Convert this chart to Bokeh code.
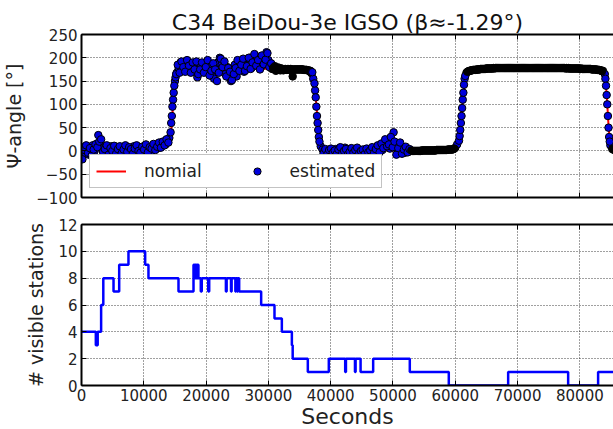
from bokeh.plotting import figure
from bokeh.models import (LinearAxis, Range1d, ColumnDataSource, Legend, LegendItem,
                          CustomJSTickFormatter, FixedTicker, CustomLabelingPolicy)
from bokeh.layouts import column
from bokeh.embed import file_html
from bokeh.resources import INLINE

FONT = "DejaVu Sans"

# ---------------- data ----------------
title_text = "C34 BeiDou-3e IGSO (β≈-1.29°)"
x_ticks = [0, 10000, 20000, 30000, 40000, 50000, 60000, 70000, 80000]
psi_ticks = [-100, -50, 0, 50, 100, 150, 200, 250]
sta_ticks = [0, 2, 4, 6, 8, 10, 12]

# nominal yaw (red line)
t_nom = [0, 6000, 12000, 13500, 14200, 14400, 14600, 14800, 15000, 15300,
         15800, 20000, 30000, 34000, 36300, 36900, 37300, 37500, 37700, 37900,
         38100, 38400, 39000, 45000, 53000, 59000, 60000, 60400, 60700, 61000,
         61300, 61600, 62000, 66000, 72000, 78000, 82000, 83500, 84000, 84200,
         84400, 84600, 84800, 85200, 86400]
psi_nom = [2, 3, 4, 8, 25, 45, 80, 115, 145, 165,
           171, 175, 177, 176, 173, 168, 150, 128, 100, 65,
           32, 12, 4, 2, 1, 2, 6, 16, 35, 75,
           120, 155, 168, 175, 178, 178, 177, 173, 163, 140,
           100, 55, 22, 6, 2]

# estimated yaw, one value every 300 s (t = 0 ... 86100)
est_step = 300
psi_est = [
    -12, 8, -5, 10, -8, 5, 12, 0, 15, 34,
    18, 5, -6, 8, 2, -4, 10, 3, -5, 8,
    0, 6, -3, 9, 2, -4, 7, 1, 10, -2,
    5, 8, -3, 6, 12, 2, 7, -2, 10, 4,
    13, 6, 15, 10, 18, 14, 22, 28, 60, 110,
    150, 168, 178, 190, 172, 185, 193, 176, 188, 180,
    170, 185, 158, 178, 183, 172, 186, 176, 168, 182,
    160, 155, 178, 190, 200, 185, 172, 165, 180, 158,
    150, 170, 185, 160, 175, 190, 182, 170, 195, 185,
    200, 178, 192, 205, 186, 198, 180, 200, 190, 212,
    195, 182, 176, 180, 172, 178, 174, 177, 173, 176,
    175, 174, 176, 160, 175, 175, 175, 175, 175, 174,
    174, 173, 171, 167, 155, 130, 75, 30, 10, 3,
    0, -3, 2, -5, 0, -6, 4, -2, 6, -4,
    1, 7, -3, -6, 5, -2, 3, -5, -1, 2,
    -4, 0, -3, 4, -5, 1, -2, 3, -4, 6,
    10, 2, 14, 8, 18, 5, 22, 40, 12, -5,
    15, 0, 8, -4, 5, -2, 1, 0, 0, 0,
    0, 0, 1, 1, 1, 1, 1, 1, 1, 1,
    2, 2, 2, 2, 2, 2, 3, 3, 3, 4,
    7, 14, 22, 60, 110, 155, 168, 171, 172, 173,
    174, 174, 175, 175, 176, 176, 176, 177, 177, 177,
    177, 177, 178, 178, 178, 178, 178, 178, 178, 178,
    178, 178, 178, 178, 178, 178, 178, 178, 178, 178,
    178, 178, 178, 178, 178, 178, 178, 178, 178, 178,
    178, 178, 178, 178, 178, 178, 178, 178, 178, 177,
    177, 177, 177, 177, 177, 177, 177, 176, 176, 176,
    176, 176, 176, 175, 175, 175, 174, 174, 173, 172,
    165, 120, 50, 12, 4, 2, 1, 1,
]
t_est = [i * est_step for i in range(len(psi_est))]

# additional estimated epochs during the yaw flips
t_flip = [14300, 14500, 14600, 14800, 14900, 15100, 15200,
          37400, 37600, 37700, 37900, 38000, 38200,
          60700, 60800, 61000, 61100, 61300, 61400, 61600,
          84100, 84200, 84400, 84500, 84700, 84800]
psi_flip = [40, 75, 95, 125, 140, 158, 165,
            145, 115, 95, 60, 45, 20,
            32, 45, 75, 92, 125, 142, 161,
            155, 140, 100, 75, 30, 20]

# additional estimated epochs between the 300 s ones (shifted by 150 s)
t0_mid_a = 150
psi_mid_a = [
    -18, 2, 12, -4, 6, -10, 3, 14, 8, 20,
    25, -2, 4, 12, -8, 6, 0, 11, -6, 4,
    10, -5, 3, 12, -2, 8, 4, -6, 5, 12,
    0, -4, 9, 3, 14, -3, 8, 5, 15, 2,
    9, 18, 7, 20, 12, 25, 18,
]
t0_mid_b = 15450
psi_mid_b = [
    185, 168, 192, 180, 170, 195, 183, 168, 190, 175,
    192, 165, 175, 190, 168, 180, 195, 162, 172, 188,
    175, 150, 168, 198, 180, 192, 160, 178, 170, 152,
    165, 178, 195, 172, 185, 198, 172, 182, 200, 176,
    190, 208, 183, 195, 175, 205, 186, 196, 210, 180,
    188, 178, 182, 175, 179, 173, 176, 175, 174, 176,
    175, 175, 175, 175, 175, 175, 175, 175, 174, 174,
    173, 172, 169,
]
t0_mid_c = 38850
psi_mid_c = [
    -6, 4, -8, 2, 5, -4, 1, -7, 3, 8,
    -5, 0, 4, -8, -2, 6, -4, 2, 7, -6,
    0, 3, -7, 5, -3, 1, 8, -5, 4, 12,
    -3, 16, 6, 25, 10, 14, 30, 8, 20, -8,
    6, 18, -6, 3, 9, -3, 4, 1, 0, 0,
    0, 0, 0, 1, 1, 1, 1, 1, 1, 1,
    1, 2, 2, 2, 2, 2, 2, 3, 3, 3,
    5,
]
t0_mid_d = 61950
psi_mid_d = [
    170, 172, 173, 174, 174, 175, 175, 176, 176, 176,
    177, 177, 177, 177, 178, 178, 178, 178, 178, 178,
    178, 178, 178, 178, 178, 178, 178, 178, 178, 178,
    178, 178, 178, 178, 178, 178, 178, 178, 178, 178,
    178, 178, 178, 178, 178, 178, 178, 178, 178, 178,
    178, 178, 178, 178, 178, 177, 177, 177, 177, 177,
    177, 177, 176, 176, 176, 176, 176, 175, 175, 175,
    174, 173, 171,
]

# quiet arcs, where the dense estimates merge into a solid black trace
quiet_arcs = [(30500, 37000), (52900, 60100), (61700, 83800), (85000, 86400)]

# number of visible stations (step changes)
t_sta = [0, 2300, 2600, 3150, 3500, 5140, 6050, 7540, 10220, 10750,
         15570, 17980, 18150, 18250, 18400, 18500, 18650, 18700, 18770, 19150,
         19300, 20350, 20500, 23180, 23300, 24000, 24100, 24700, 24800, 25000,
         25100, 25310, 28840, 30980, 32160, 33770, 33900, 36330, 39700, 42330,
         42450, 43900, 44000, 44800, 46820, 52700, 58960, 68490, 78120, 82930,
         86400]
n_sta = [4, 3, 4, 6, 8, 7, 9, 10, 9, 8,
         7, 9, 8, 9, 8, 9, 8, 9, 8, 7,
         8, 7, 8, 7, 8, 7, 8, 7, 8, 7,
         8, 7, 6, 5, 4, 3, 2, 1, 2, 1,
         2, 1, 2, 1, 2, 1, 0, 1, 0, 1,
         1]

# ---------------- helpers ----------------
minus_fmt = CustomJSTickFormatter(
    code="return tick < 0 ? '\\u2212' + Math.abs(tick) : tick.toString();")


def style_axis(ax, ticks, show_labels=True):
    ax.ticker = FixedTicker(ticks=ticks)
    ax.axis_line_width = 2
    ax.axis_line_color = "black"
    ax.major_tick_in = 5
    ax.major_tick_out = 0
    ax.major_tick_line_width = 1
    ax.major_tick_line_color = "black"
    ax.minor_tick_line_color = None
    ax.major_label_text_font = FONT
    ax.major_label_text_color = "#222222"
    if show_labels:
        ax.major_label_text_font_size = "15px"
        ax.major_label_standoff = 4
    else:
        ax.major_label_text_font_size = "0px"
        ax.major_label_standoff = 0
        ax.major_label_policy = CustomLabelingPolicy(code="return []")


def style_grid(p, xt, yt):
    p.xgrid.ticker = FixedTicker(ticks=xt)
    p.ygrid.ticker = FixedTicker(ticks=yt)
    for g in (p.xgrid, p.ygrid):
        g.grid_line_color = "black"
        g.grid_line_dash = "1 2"
        g.grid_line_alpha = 0.75
        g.grid_line_width = 1


x_range = Range1d(0, 85400)

# ---------------- top panel ----------------
p1 = figure(frame_width=532, frame_height=163, x_range=x_range,
            y_range=Range1d(-100, 250), output_backend="svg",
            toolbar_location=None, min_border_left=81, min_border_right=0,
            min_border_top=34, min_border_bottom=12)
p1.outline_line_color = None
p1.background_fill_color = "white"
p1.border_fill_color = "white"
p1.title.text = title_text
p1.title.align = "center"
p1.title.text_font = FONT
p1.title.text_font_size = "22px"
p1.title.text_font_style = "normal"
p1.title.text_color = "#111111"
p1.title.standoff = 0

style_axis(p1.xaxis[0], x_ticks, show_labels=False)
style_axis(p1.yaxis[0], psi_ticks)
p1.yaxis[0].formatter = minus_fmt
p1.yaxis.axis_label = "Ψ-angle [°]"
p1.yaxis.axis_label_text_font = FONT
p1.yaxis.axis_label_text_font_size = "19px"
p1.yaxis.axis_label_text_font_style = "normal"
p1.yaxis.axis_label_text_color = "#222222"
p1.yaxis.axis_label_standoff = 8
top1 = LinearAxis()
style_axis(top1, x_ticks, show_labels=False)
p1.add_layout(top1, "above")
style_grid(p1, x_ticks, psi_ticks)

r_nom = p1.line(t_nom, psi_nom, line_color="red", line_width=2)


def offsets(t0, vals):
    return [t0 + est_step * i for i in range(len(vals))]


t_all = (t_est + t_flip
         + offsets(t0_mid_a, psi_mid_a) + offsets(t0_mid_b, psi_mid_b)
         + offsets(t0_mid_c, psi_mid_c) + offsets(t0_mid_d, psi_mid_d))
psi_all = psi_est + psi_flip + psi_mid_a + psi_mid_b + psi_mid_c + psi_mid_d
fill_all = ["black" if any(a <= t <= b for a, b in quiet_arcs) else "#0000dd"
            for t in t_all]
src_est = ColumnDataSource(dict(t=t_all, psi=psi_all, fill=fill_all))
r_est = p1.scatter("t", "psi", source=src_est, size=7.5, fill_color="fill",
                   line_color="black", line_width=1.0)

legend = Legend(items=[LegendItem(label="nomial", renderers=[r_nom]),
                       LegendItem(label="estimated", renderers=[r_est], index=0)],
                orientation="horizontal", location=(8, 9))
legend.label_text_font = FONT
legend.label_text_font_size = "17px"
legend.label_text_color = "#222222"
legend.glyph_width = 30
legend.glyph_height = 18
legend.label_standoff = 18
legend.spacing = 40
legend.padding = 6
legend.margin = 0
legend.border_line_color = "#888888"
legend.border_line_width = 1
legend.background_fill_color = "white"
legend.background_fill_alpha = 1
p1.add_layout(legend, "center")

# ---------------- bottom panel ----------------
p2 = figure(frame_width=532, frame_height=161, x_range=x_range,
            y_range=Range1d(0, 12), output_backend="svg",
            toolbar_location=None, min_border_left=81, min_border_right=0,
            min_border_top=15, min_border_bottom=44)
p2.outline_line_color = None
p2.background_fill_color = "white"
p2.border_fill_color = "white"
style_axis(p2.xaxis[0], x_ticks)
p2.xaxis[0].major_label_standoff = 3
style_axis(p2.yaxis[0], sta_ticks)
p2.xaxis.axis_label = "Seconds"
p2.xaxis.axis_label_text_font = FONT
p2.xaxis.axis_label_text_font_size = "22px"
p2.xaxis.axis_label_text_font_style = "normal"
p2.xaxis.axis_label_text_color = "#222222"
p2.xaxis.axis_label_standoff = 0
p2.yaxis.axis_label = "# visible stations"
p2.yaxis.axis_label_text_font = FONT
p2.yaxis.axis_label_text_font_size = "19px"
p2.yaxis.axis_label_text_font_style = "normal"
p2.yaxis.axis_label_text_color = "#222222"
p2.yaxis.axis_label_standoff = 8
top2 = LinearAxis()
style_axis(top2, x_ticks, show_labels=False)
p2.add_layout(top2, "above")
style_grid(p2, x_ticks, sta_ticks)

p2.step(t_sta, n_sta, mode="after", line_color="#0000ff", line_width=2.5)

layout = column(p1, p2, spacing=0)
open("out.html", "w").write(file_html(layout, INLINE))
